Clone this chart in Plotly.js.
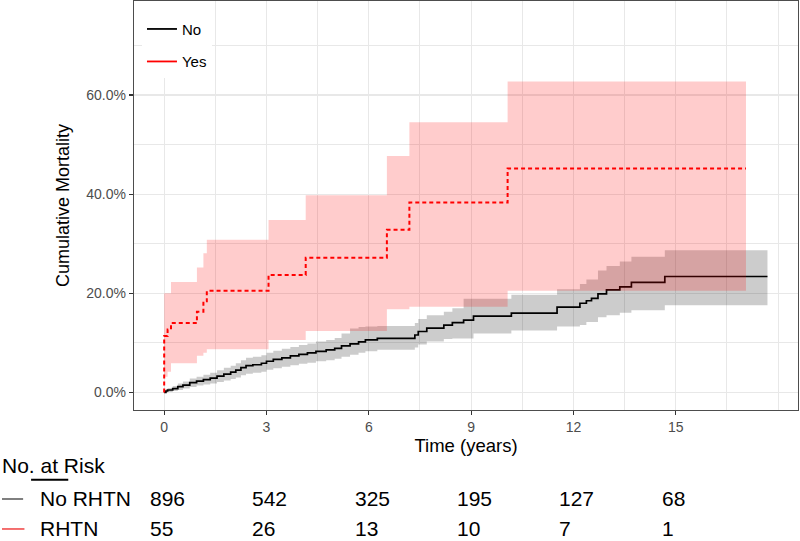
<!DOCTYPE html>
<html>
<head>
<meta charset="utf-8">
<script src="https://cdn.plot.ly/plotly-3.0.1.min.js"></script>
<style>
html,body{margin:0;padding:0;background:#fff;}
#chart{width:800px;height:541px;}
</style>
</head>
<body>
<div id="chart"></div>
<script>
// ---- Data (cumulative mortality, %) ----
const noTime = [0, 0.05, 0.1, 0.25, 0.4, 0.55, 0.75, 0.95, 1.15, 1.35, 1.55, 1.75, 1.95, 2.1, 2.25, 2.4, 2.6, 2.85, 3.0, 3.2, 3.45, 3.7, 3.95, 4.2, 4.45, 4.75, 5.0, 5.2, 5.45, 5.7, 5.9, 6.25, 7.35, 7.45, 7.7, 8.2, 8.45, 8.78, 9.07, 10.18, 11.52, 12.19, 12.38, 12.53, 12.72, 12.97, 13.36, 13.70, 14.68, 17.69];
const noEst  = [0, 0.3, 0.5, 0.8, 1.2, 1.5, 2.0, 2.3, 2.6, 2.9, 3.3, 3.7, 4.1, 4.5, 5.0, 5.4, 5.6, 5.9, 6.3, 6.7, 7.0, 7.4, 7.7, 8.0, 8.3, 8.6, 8.9, 9.4, 9.8, 10.2, 10.6, 10.9, 11.6, 12.3, 13.0, 13.6, 14.1, 14.6, 15.4, 16.0, 17.2, 18.0, 18.5, 19.0, 19.9, 20.7, 21.3, 22.2, 23.4, 23.4];
const noLower = [0, 0.0, 0.1, 0.3, 0.5, 0.8, 1.1, 1.4, 1.6, 1.8, 2.1, 2.4, 2.7, 3.0, 3.5, 3.8, 4.0, 4.2, 4.6, 4.9, 5.2, 5.5, 5.8, 6.0, 6.3, 6.5, 6.8, 7.2, 7.6, 8.0, 8.3, 8.6, 9.1, 9.7, 10.3, 10.8, 10.9, 10.9, 11.9, 12.5, 13.3, 13.6, 14.2, 14.2, 15.2, 15.6, 16.1, 16.6, 17.6, 17.6];
const noUpper = [0, 0.7, 0.9, 1.3, 1.8, 2.2, 2.8, 3.2, 3.6, 4.0, 4.5, 5.0, 5.4, 5.9, 6.5, 7.0, 7.2, 7.5, 8.0, 8.4, 8.8, 9.2, 9.6, 9.9, 10.3, 10.6, 11.0, 11.9, 12.9, 13.2, 13.3, 13.4, 14.0, 14.8, 15.6, 16.3, 17.0, 18.9, 18.9, 19.7, 20.8, 21.9, 22.8, 22.8, 24.6, 25.5, 26.4, 27.4, 28.7, 28.7];

const yesTime = [0, 0, 0.1, 0.2, 0.96, 1.15, 1.25, 3.06, 4.15, 6.53, 7.19, 10.07, 17.06];
const yesEst  = [0, 11.4, 12.7, 14.0, 16.3, 18.4, 20.5, 23.7, 27.2, 32.8, 38.3, 45.2, 45.2];
const yesBandTime = [0, 0.1, 0.2, 0.96, 1.15, 1.25, 3.06, 4.15, 6.53, 7.19, 10.07, 17.06];
const yesLower = [3.2, 4.2, 5.9, 7.4, 8.0, 8.7, 10.6, 12.4, 16.8, 17.3, 20.5, 20.5];
const yesUpper = [20.0, 20.0, 22.3, 25.2, 28.1, 30.8, 34.8, 39.8, 47.7, 54.5, 62.7, 62.7];

const yTickVals = [0, 20, 40, 60];
const yTickText = ['0.0%', '20.0%', '40.0%', '60.0%'];
const xTickVals = [0, 3, 6, 9, 12, 15];

const riskTimes = [0, 3, 6, 9, 12, 15];
const riskNoRHTN = [896, 542, 325, 195, 127, 68];
const riskRHTN = [55, 26, 13, 10, 7, 1];
const riskLabels = ['No RHTN', 'RHTN'];

// ---- Traces ----
const traces = [
  {x: noTime, y: noLower, type: 'scatter', mode: 'lines', line: {shape: 'hv', width: 0, color: 'rgba(0,0,0,0)'}, showlegend: false, hoverinfo: 'skip'},
  {x: noTime, y: noUpper, type: 'scatter', mode: 'lines', line: {shape: 'hv', width: 0, color: 'rgba(0,0,0,0)'}, fill: 'tonexty', fillcolor: 'rgba(0,0,0,0.2)', showlegend: false, hoverinfo: 'skip'},
  {x: noTime, y: noEst, type: 'scatter', mode: 'lines', line: {shape: 'hv', width: 1.7, color: '#000000'}, showlegend: false},
  {x: yesBandTime, y: yesLower, type: 'scatter', mode: 'lines', line: {shape: 'hv', width: 0, color: 'rgba(0,0,0,0)'}, showlegend: false, hoverinfo: 'skip'},
  {x: yesBandTime, y: yesUpper, type: 'scatter', mode: 'lines', line: {shape: 'hv', width: 0, color: 'rgba(0,0,0,0)'}, fill: 'tonexty', fillcolor: 'rgba(255,0,0,0.2)', showlegend: false, hoverinfo: 'skip'},
  {x: yesTime, y: yesEst, type: 'scatter', mode: 'lines', line: {shape: 'hv', width: 2, color: '#FF0000', dash: '4px,3px'}, showlegend: false},
  // legend keys (solid lines as in the reference)
  {x: [null], y: [null], type: 'scatter', mode: 'lines', name: 'No', line: {color: '#000000', width: 1.8}, legendgroup: 'a'},
  {x: [null], y: [null], type: 'scatter', mode: 'lines', name: 'Yes', line: {color: '#FF0000', width: 1.8}, legendgroup: 'b'}
];

// ---- Risk table annotations ----
const font = 'Liberation Sans, Arial, sans-serif';
const annotations = [];
annotations.push({xref: 'paper', yref: 'paper', x: -0.2018, y: -0.1345, xanchor: 'left', yanchor: 'middle', text: 'No. at Risk', showarrow: false, font: {family: font, size: 21, color: '#000'}});
annotations.push({xref: 'paper', yref: 'paper', x: -0.1446, y: -0.2176, xanchor: 'left', yanchor: 'middle', text: riskLabels[0], showarrow: false, font: {family: font, size: 21, color: '#000'}});
annotations.push({xref: 'paper', yref: 'paper', x: -0.1446, y: -0.2909, xanchor: 'left', yanchor: 'middle', text: riskLabels[1], showarrow: false, font: {family: font, size: 21, color: '#000'}});
riskTimes.forEach((t, i) => {
  annotations.push({xref: 'x', yref: 'paper', x: t, y: -0.2176, xanchor: 'left', xshift: -16, yanchor: 'middle', text: String(riskNoRHTN[i]), showarrow: false, font: {family: font, size: 21, color: '#000'}});
  annotations.push({xref: 'x', yref: 'paper', x: t, y: -0.2909, xanchor: 'left', xshift: -16, yanchor: 'middle', text: String(riskRHTN[i]), showarrow: false, font: {family: font, size: 21, color: '#000'}});
});

const shapes = [
  {type: 'line', xref: 'paper', yref: 'paper', x0: -0.155, x1: -0.099, y0: -0.1707, y1: -0.1707, line: {color: '#000', width: 2}},
  {type: 'line', xref: 'paper', yref: 'paper', x0: -0.1988, x1: -0.167, y0: -0.2176, y1: -0.2176, line: {color: '#555', width: 1.5}},
  {type: 'line', xref: 'paper', yref: 'paper', x0: -0.1988, x1: -0.165, y0: -0.2909, y1: -0.2909, line: {color: '#F04040', width: 1.5}}
];

const layout = {
  width: 800, height: 541,
  margin: {l: 134, r: 2, t: 1, b: 131, pad: 0},
  paper_bgcolor: '#fff', plot_bgcolor: '#fff',
  font: {family: font, color: '#000'},
  showlegend: true,
  legend: {x: 0.012, y: 1, xanchor: 'left', yanchor: 'top', bgcolor: '#fff', borderwidth: 0,
           font: {family: font, size: 15, color: '#000'}, tracegroupgap: 10,
           title: {text: ' ', font: {size: 9}}},
  xaxis: {
    range: [-0.885, 18.585], tickvals: xTickVals, ticks: 'outside', ticklen: 4, tickcolor: '#333', tickwidth: 1.2,
    tickfont: {family: font, size: 14, color: '#4d4d4d'},
    showgrid: true, gridcolor: '#E8E8E8', gridwidth: 1.2, zeroline: false,
    minor: {dtick: 1.5, tick0: 0, showgrid: true, gridcolor: '#E8E8E8', gridwidth: 1, ticks: ''},
    showline: true, mirror: true, linecolor: '#4d4d4d', linewidth: 1.2,
    title: {text: 'Time (years)', font: {family: font, size: 18.5, color: '#000'}, standoff: 1}
  },
  yaxis: {
    range: [-3.53, 78.96], tickvals: yTickVals, ticktext: yTickText, ticks: 'outside', ticklen: 4, tickcolor: '#333', tickwidth: 1.2,
    tickfont: {family: font, size: 14, color: '#4d4d4d'},
    showgrid: true, gridcolor: '#E8E8E8', gridwidth: 1.2, zeroline: false,
    minor: {dtick: 10, tick0: 0, showgrid: true, gridcolor: '#E8E8E8', gridwidth: 1, ticks: ''},
    showline: true, mirror: true, linecolor: '#4d4d4d', linewidth: 1.2,
    title: {text: 'Cumulative Mortality', font: {family: font, size: 18, color: '#000'}, standoff: 12}
  },
  annotations: annotations,
  shapes: shapes
};

Plotly.newPlot('chart', traces, layout, {staticPlot: true, displayModeBar: false});
</script>
</body>
</html>
